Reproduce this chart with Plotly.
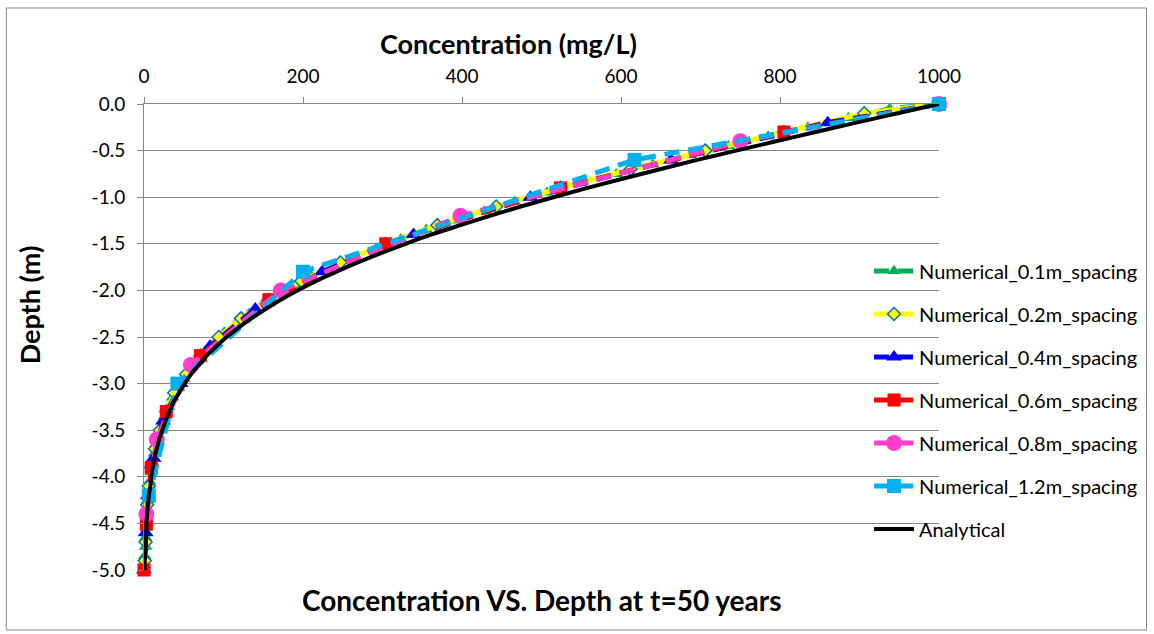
import plotly.graph_objects as go

# ---------------- data ----------------
depth_01 = [0, -0.05, -0.15, -0.25, -0.35, -0.45, -0.55, -0.65, -0.75, -0.85, -0.95,
            -1.05, -1.15, -1.25, -1.35, -1.45, -1.55, -1.65, -1.75, -1.85, -1.95,
            -2.05, -2.15, -2.25, -2.35, -2.45, -2.55, -2.65, -2.75, -2.85, -2.95,
            -3.05, -3.15, -3.25, -3.35, -3.45, -3.55, -3.65, -3.75, -3.85, -3.95,
            -4.05, -4.15, -4.25, -4.35, -4.45, -4.55, -4.65, -4.75, -4.85, -4.95]
conc_01 = [1000, 938, 886, 835, 785, 735, 687, 640, 594, 549, 507,
           466, 428, 391, 355, 323, 292, 264, 237, 211, 189,
           168, 149, 132, 116, 101, 89, 77, 67, 57, 50,
           43, 36, 31, 26, 22, 18, 15, 13, 11, 9,
           7, 6, 5, 4, 3, 3, 2, 2, 1, 1]

depth_02 = [0, -0.1, -0.3, -0.5, -0.7, -0.9, -1.1, -1.3, -1.5, -1.7, -1.9,
            -2.1, -2.3, -2.5, -2.7, -2.9, -3.1, -3.3, -3.5, -3.7, -3.9,
            -4.1, -4.3, -4.5, -4.7, -4.9]
conc_02 = [1000, 906, 805, 706, 612, 524, 443, 369, 304, 247, 198,
           157, 122, 94, 71, 53, 38, 28, 20, 14, 9,
           6, 4, 3, 2, 1]

depth_04 = [0, -0.2, -0.6, -1.0, -1.4, -1.8, -2.2, -2.6, -3.0, -3.4, -3.8, -4.2, -4.6, -5.0]
conc_04 = [1000, 860, 663, 486, 339, 224, 140, 83, 46, 24, 12, 5, 2, 0]

depth_06 = [0, -0.3, -0.9, -1.5, -2.1, -2.7, -3.3, -3.9, -4.5, -5.0]
conc_06 = [1000, 805, 524, 304, 157, 71, 28, 9, 3, 0]

depth_08 = [0, -0.4, -1.2, -2.0, -2.8, -3.6, -4.4]
conc_08 = [1000, 750, 398, 172, 59, 16, 3]

depth_12 = [0, -0.6, -1.8, -3.0, -4.2]
conc_12 = [1000, 617, 200, 42, 6]

depth_an = [0, -0.1, -0.2, -0.3, -0.4, -0.5, -0.6, -0.7, -0.8, -0.9, -1.0,
            -1.1, -1.2, -1.3, -1.4, -1.5, -1.6, -1.7, -1.8, -1.9, -2.0,
            -2.1, -2.2, -2.3, -2.4, -2.5, -2.6, -2.7, -2.8, -2.9, -3.0,
            -3.1, -3.2, -3.3, -3.4, -3.5, -3.6, -3.7, -3.8, -3.9, -4.0,
            -4.1, -4.2, -4.3, -4.4, -4.5, -4.6, -4.7, -4.8, -4.9, -5.0]
conc_an = [1000, 948, 896, 845, 795, 745, 696, 649, 603, 558, 515,
           474, 435, 398, 362, 329, 298, 269, 242, 216, 193,
           172, 153, 135, 119, 104, 91, 79, 69, 59, 51,
           44, 37, 32, 27, 23, 19, 16, 13, 11, 9,
           8, 6, 5, 4, 3, 3, 2, 2, 1, 1]

x_ticks = [0, 200, 400, 600, 800, 1000]
x_ticklabels = ["0", "200", "400", "600", "800", "1000"]
y_ticks = [0, -0.5, -1.0, -1.5, -2.0, -2.5, -3.0, -3.5, -4.0, -4.5, -5.0]
y_ticklabels = ["0.0", "-0.5", "-1.0", "-1.5", "-2.0", "-2.5", "-3.0", "-3.5", "-4.0", "-4.5", "-5.0"]

FONT = "Lato, Carlito, Calibri, sans-serif"
DASH = "15px,9px"

fig = go.Figure()

series = [
    ("Numerical_0.1m_spacing", conc_01, depth_01, "#00B050", DASH, "triangle-up", 12, "#00B050", 0),
    ("Numerical_0.2m_spacing", conc_02, depth_02, "#FFFF00", "solid", "diamond", 10, "#0070C0", 1.5),
    ("Numerical_0.4m_spacing", conc_04, depth_04, "#0000FF", DASH, "triangle-up", 14, "#0000FF", 0),
    ("Numerical_0.6m_spacing", conc_06, depth_06, "#FF0000", DASH, "square", 13, "#FF0000", 0),
    ("Numerical_0.8m_spacing", conc_08, depth_08, "#FF3FCC", DASH, "circle", 16, "#FF3FCC", 0),
    ("Numerical_1.2m_spacing", conc_12, depth_12, "#00B0F0", DASH, "square", 14, "#00B0F0", 0),
]
for i, (name, xs, ys, col, dash, sym, size, lcol, lw) in enumerate(series):
    fig.add_trace(go.Scatter(
        x=xs, y=ys, name=name, mode="lines+markers",
        line=dict(color=col, width=5, dash=dash),
        marker=dict(symbol=sym, size=size, color=col, line=dict(color=lcol, width=lw)),
        cliponaxis=False, legendgroup=f"g{i}",
    ))

fig.add_trace(go.Scatter(
    x=conc_an, y=depth_an, name="Analytical", mode="lines",
    line=dict(color="black", width=4, shape="spline"),
    cliponaxis=False, legendgroup="g_an",
))

fig.update_layout(
    width=1154, height=634,
    margin=dict(l=144, r=213, t=104, b=64),
    paper_bgcolor="white", plot_bgcolor="white",
    font=dict(family=FONT, size=19, color="black"),
    showlegend=True,
    legend=dict(
        x=0.912, y=0.6835, xanchor="left", yanchor="top",
        bgcolor="rgba(0,0,0,0)", font=dict(family=FONT, size=20, color="black"),
        tracegroupgap=14, itemwidth=40,
    ),
    xaxis=dict(
        side="top", range=[0, 1000], tickvals=x_ticks, ticktext=x_ticklabels,
        showgrid=False, zeroline=False, showline=True, linecolor="#868686", linewidth=1,
        ticks="outside", ticklen=6, tickcolor="#868686", ticklabelstandoff=6,
        tickfont=dict(family=FONT, size=19, color="black"),
    ),
    yaxis=dict(
        range=[-5, 0], tickvals=y_ticks, ticktext=y_ticklabels,
        showgrid=True, gridcolor="#868686", gridwidth=1, zeroline=False,
        showline=True, linecolor="#868686", linewidth=1,
        ticks="outside", ticklen=6, tickcolor="#868686", ticklabelstandoff=8,
        tickfont=dict(family=FONT, size=19, color="black"),
    ),
    annotations=[
        dict(text="<b>Concentration (mg/L)</b>", xref="paper", yref="paper",
             x=0.458, y=1.1288, xanchor="center", yanchor="middle", showarrow=False,
             font=dict(family=FONT, size=27, color="black")),
        dict(text="<b>Depth (m)</b>", xref="paper", yref="paper", textangle=-90,
             x=-0.143, y=0.5687, xanchor="center", yanchor="middle", showarrow=False,
             font=dict(family=FONT, size=27, color="black")),
        dict(text="<b>Concentration VS. Depth at t=50 years</b>", xref="paper", yref="paper",
             x=0.5006, y=-0.0644, xanchor="center", yanchor="middle", showarrow=False,
             font=dict(family=FONT, size=28, color="black")),
    ],
    shapes=[
        dict(type="rect", xref="paper", yref="paper", x0=-0.1732, x1=1.2610, y0=-0.1288, y1=1.2060,
             line=dict(color="#868686", width=1), fillcolor="rgba(0,0,0,0)", layer="below"),
    ],
)

fig.write_html("out.html")
